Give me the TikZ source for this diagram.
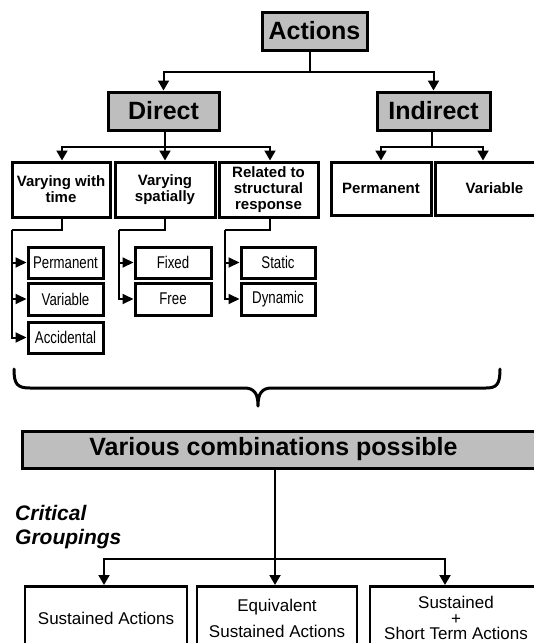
\documentclass[tikz,border=0pt]{standalone}
\usepackage{fontspec}
\setmainfont{Liberation Sans}
\newfontfamily\narrowfont[FakeStretch=0.78]{Liberation Sans}
\usetikzlibrary{arrows.meta}
\definecolor{boxgray}{HTML}{BEBEBE}
\begin{document}
\begin{tikzpicture}[x=1pt,y=-1pt,
  line/.style={line width=2pt},
  arr/.style={line width=2pt,-{Triangle[width=11pt,length=10pt]}},
  sarr/.style={line width=2pt,-{Triangle[width=10pt,length=11pt]}},
  head/.style={draw,line width=3pt,fill=boxgray,font=\bfseries\fontsize{25}{28}\selectfont,inner sep=0pt},
  cat/.style={draw,line width=3pt,fill=white,font=\bfseries\fontsize{15}{16}\selectfont,align=center,inner sep=0pt},
  subbox/.style={draw,line width=3pt,font=\narrowfont\fontsize{17}{19}\selectfont,inner sep=0pt,minimum width=75pt,minimum height=31pt},
  grp/.style={draw,line width=2.5pt,font=\fontsize{17}{15.5}\selectfont,align=center,inner sep=0pt,anchor=north,minimum height=64pt},
  bracestyle/.style={line width=3pt,line cap=round,line join=round}]
\useasboundingbox (0,0) rectangle (534,643);

% top levels
\node[head,minimum width=105pt,minimum height=38pt] (act) at (314.5,31) {Actions};
\node[head,minimum width=111pt,minimum height=38pt] (dir) at (163.5,111) {Direct};
\node[head,minimum width=113pt,minimum height=38pt] (ind) at (433.5,111) {Indirect};

\draw[line] ([xshift=-4.5pt]act.south) -- ++(0,20) coordinate (j1);
\draw[arr] (j1) -| (dir.north);
\draw[arr] (j1) -| (ind.north);

% level 3
\node[cat,minimum width=98pt,minimum height=55pt] (vt) at (61,189.5) {Varying with\\time};
\node[cat,minimum width=100pt,minimum height=55pt] (vs) at (165,189.5) {Varying\\spatially};
\node[cat,minimum width=99pt,minimum height=55pt] (rs) at (268.5,189.5) {Related to\\structural\\response};
\node[cat,minimum width=100pt,minimum height=53pt] (ip) at (381,188.5) {Permanent};
\node[cat,minimum width=119pt,minimum height=53pt] (iv) at (494.5,188.5) {Variable};

\draw[line] ([xshift=1.5pt]dir.south) -- ++(0,15) coordinate (j2);
\draw[arr] (j2) -| ([xshift=1pt]vt.north);
\draw[arr] (j2) -| (vs.north);
\draw[arr] (j2) -| ([xshift=1.5pt]rs.north);

\draw[line] ([xshift=-1.5pt]ind.south) -- ++(0,15) coordinate (j3);
\draw[arr] (j3) -| (ip.north);
\draw[arr] (j3) -| ([xshift=-11.5pt]iv.north);

% sub boxes
\node[subbox] (p1) at (65.5,262.5) {Permanent};
\node[subbox,minimum height=32pt] (v1) at (65.5,299) {Variable};
\node[subbox] (a1) at (65.5,337.5) {Accidental};
\node[subbox,minimum width=76pt] (fx) at (173,262.5) {Fixed};
\node[subbox,minimum width=76pt,minimum height=32pt] (fr) at (173,299) {Free};
\node[subbox,minimum width=74pt] (st) at (278,262.5) {Static};
\node[subbox,minimum width=74pt,minimum height=32pt] (dy) at (278,299) {Dynamic};

\coordinate (tj) at (12,230);
\draw[line] ([xshift=1pt]vt.south) |- (tj);
\draw[sarr] (tj) |- (p1.west);
\draw[sarr] (tj) |- (v1.west);
\draw[sarr] (tj) |- (a1.west);

\coordinate (sj) at (119,230);
\draw[line] (vs.south) |- (sj);
\draw[sarr] (sj) |- (fx.west);
\draw[sarr] (sj) |- (fr.west);

\coordinate (rj) at (225,230);
\draw[line] ([xshift=1.5pt]rs.south) |- (rj);
\draw[sarr] (rj) |- (st.west);
\draw[sarr] (rj) |- (dy.west);

% brace
\draw[bracestyle] (14,369) .. controls (14,384) and (17,388) .. (30,388)
  -- (244,388) .. controls (254,388) and (258,393) .. (258,406)
  .. controls (258,393) and (262,388) .. (272,388)
  -- (486,388) .. controls (497,388) and (500,384) .. (500,369);

% combinations
\node[head,minimum width=518pt,minimum height=37pt] (vc) at (281,449.5) {Various combinations possible\hspace*{15pt}};

\node[font=\bfseries\itshape\fontsize{21}{24}\selectfont,align=left,anchor=north west,inner sep=0pt] (cg) at (15,505) {Critical\\Groupings};

\node[grp,minimum width=162pt] (b1) at (106,585) {Sustained Actions};
\node[grp,minimum width=160pt] (b2) at (277,585) {Equivalent\\[9.5pt]Sustained Actions};
\node[grp,minimum width=172pt] (b3) at (456,585) {Sustained\\+\\Short Term Actions};

\draw[line] ([xshift=-6pt]vc.south) -- ++(0,89) coordinate (j4);
\draw[arr] ([xshift=-6pt]vc.south) -- (j4 |- b2.north);
\draw[arr] (j4) -| ([xshift=-2pt]b1.north);
\draw[arr] (j4) -| ([xshift=-11pt]b3.north);
\end{tikzpicture}
\end{document}
